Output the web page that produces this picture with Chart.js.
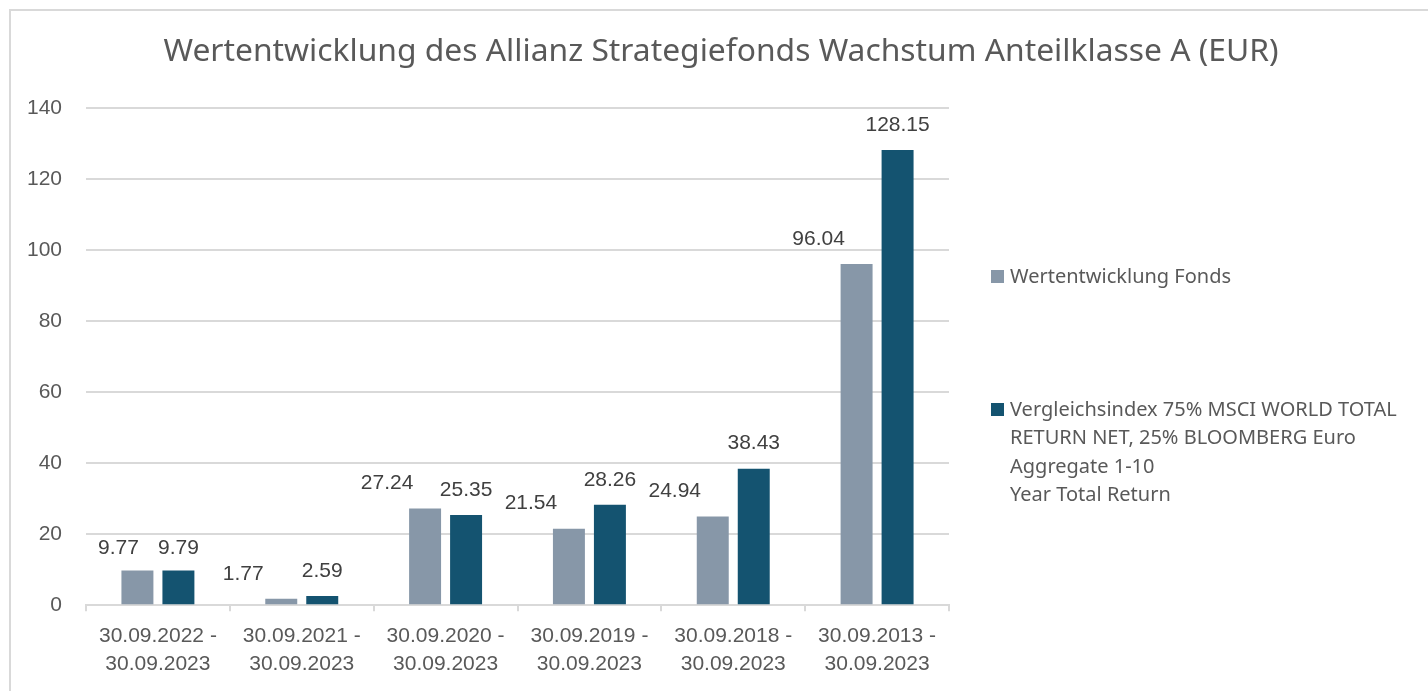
<!DOCTYPE html>
<html>
<head>
<meta charset="utf-8">
<script src="https://cdn.jsdelivr.net/npm/chart.js@4"></script>
<style>
  html, body { margin: 0; padding: 0; background: #fff; }
  #frame { position: absolute; left: 9px; top: 9px; width: 1440px; height: 700px; border: 2px solid #d9d9d9; box-sizing: border-box; }
  #wrap { position: absolute; left: 0; top: 0; width: 1428px; height: 691px; }
</style>
</head>
<body>
<div id="frame"></div>
<div id="wrap"><canvas id="myChart" width="1428" height="691"></canvas></div>
<script>
// Zeitraeume (Kategorien)
const periods = [
    ['30.09.2022 -', '30.09.2023'],
    ['30.09.2021 -', '30.09.2023'],
    ['30.09.2020 -', '30.09.2023'],
    ['30.09.2019 -', '30.09.2023'],
    ['30.09.2018 -', '30.09.2023'],
    ['30.09.2013 -', '30.09.2023']
];

// Wertentwicklung in %
const fondsValues = [9.77, 1.77, 27.24, 21.54, 24.94, 96.04];
const indexValues = [9.79, 2.59, 25.35, 28.26, 38.43, 128.15];

const fondsLabel = 'Wertentwicklung Fonds';
const indexLabel = [
    'Vergleichsindex 75% MSCI WORLD TOTAL',
    'RETURN NET, 25% BLOOMBERG Euro',
    'Aggregate 1-10',
    'Year Total Return'
];
const chartTitle = 'Wertentwicklung des Allianz Strategiefonds Wachstum Anteilklasse A (EUR)';

const yTicks = [0, 20, 40, 60, 80, 100, 120, 140];

const fondsColor = '#8797a8';
const indexColor = '#145370';
const textColor = '#595959';

// Titel ueber die ganze Breite zentriert
const wideTitle = {
    id: 'wideTitle',
    afterDraw(chart) {
        const ctx = chart.ctx;
        ctx.save();
        ctx.font = '31.8px "Noto Sans", sans-serif';
        ctx.fillStyle = textColor;
        ctx.textAlign = 'center';
        ctx.textBaseline = 'middle';
        ctx.fillText(chartTitle, 721, 52);
        ctx.restore();
    }
};

// Datenbeschriftungen ueber den Balken
const valueLabels = {
    id: 'valueLabels',
    afterDatasetsDraw(chart) {
        const ctx = chart.ctx;
        const area = chart.chartArea;
        const m0 = chart.getDatasetMeta(0);
        const m1 = chart.getDatasetMeta(1);
        ctx.save();
        ctx.font = '21px "Liberation Sans", Arial, sans-serif';
        ctx.fillStyle = '#404040';
        ctx.textAlign = 'center';
        ctx.textBaseline = 'middle';
        m0.data.forEach((bar, i) => {
            const t0 = fondsValues[i].toFixed(2);
            const t1 = indexValues[i].toFixed(2);
            const w0 = ctx.measureText(t0).width;
            const w1 = ctx.measureText(t1).width;
            // grauer Label nach links versetzt
            let x0 = bar.x - 38;
            if (x0 - w0 / 2 < area.left + 12) x0 = area.left + 12 + w0 / 2;
            const bar1 = m1.data[i];
            let x1 = bar1.x;
            if (x1 - w1 / 2 < x0 + w0 / 2 + 18) x1 = x0 + w0 / 2 + 18 + w1 / 2;
            const gap = i === 0 ? 22 : 25;
            ctx.fillText(t0, x0, bar.y - gap);
            ctx.fillText(t1, x1, bar1.y - gap);
        });
        ctx.restore();
    }
};

// Legende rechts
const sideLegend = {
    id: 'sideLegend',
    afterDraw(chart) {
        const ctx = chart.ctx;
        const x = chart.chartArea.right + 42;
        ctx.save();
        ctx.font = '20px "Noto Sans", sans-serif';
        ctx.textBaseline = 'middle';
        ctx.fillStyle = fondsColor;
        ctx.fillRect(x, 270, 13, 13);
        ctx.fillStyle = textColor;
        ctx.fillText(fondsLabel, x + 19, 277);
        ctx.fillStyle = indexColor;
        ctx.fillRect(x, 403, 13, 13);
        ctx.fillStyle = textColor;
        indexLabel.forEach((line, k) => {
            ctx.fillText(line, x + 19, 410 + k * 28.5);
        });
        ctx.restore();
    }
};

const ctx = document.getElementById('myChart').getContext('2d');
const myChart = new Chart(ctx, {
    type: 'bar',
    data: {
        labels: periods,
        datasets: [{
            label: fondsLabel,
            data: fondsValues,
            backgroundColor: fondsColor,
            categoryPercentage: 0.57,
            barPercentage: 0.78
        }, {
            label: indexLabel.join(' '),
            data: indexValues,
            backgroundColor: indexColor,
            categoryPercentage: 0.57,
            barPercentage: 0.78
        }]
    },
    options: {
        responsive: false,
        animation: false,
        layout: {
            padding: { left: 0, right: 479, top: 108, bottom: 2 }
        },
        plugins: {
            legend: { display: false },
            tooltip: { enabled: false },
            title: { display: false }
        },
        scales: {
            y: {
                min: 0,
                max: 140,
                afterBuildTicks: axis => { axis.ticks = yTicks.map(v => ({ value: v })); },
                afterFit: axis => { axis.width = 86; },
                border: { display: false },
                grid: { color: '#d9d9d9', lineWidth: 2, drawTicks: false },
                ticks: {
                    color: textColor,
                    padding: 24,
                    font: { family: '"Liberation Sans", Arial, sans-serif', size: 21 }
                }
            },
            x: {
                border: { display: true, color: '#d9d9d9', width: 2 },
                grid: { color: '#d9d9d9', lineWidth: 2, drawOnChartArea: false, drawTicks: true, tickLength: 6 },
                ticks: {
                    color: textColor,
                    padding: 11,
                    maxRotation: 0,
                    font: { family: '"Liberation Sans", Arial, sans-serif', size: 21, lineHeight: 1.33 }
                }
            }
        }
    },
    plugins: [valueLabels, sideLegend, wideTitle]
});
</script>
</body>
</html>
